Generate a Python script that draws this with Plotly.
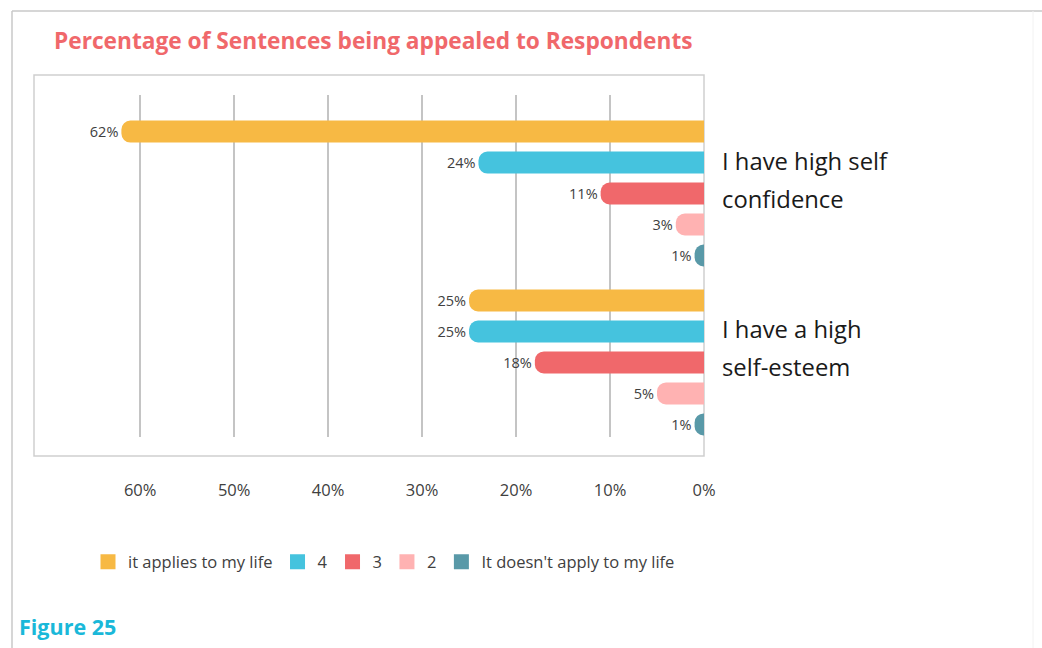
import plotly.graph_objects as go

# Survey statements (one bar group each)
statements = ["I have high self confidence", "I have a high self-esteem"]
statement_lines = [["I have high self", "confidence"], ["I have a high", "self-esteem"]]

# Answer scale, from "applies" to "doesn't apply"
answers = ["it applies to my life", "4", "3", "2", "It doesn't apply to my life"]
colors = ["#f7b944", "#45c3de", "#f0686b", "#ffb2b2", "#5999a8"]

# Percentage of respondents per answer, per statement
pct_applies = [62, 25]
pct_4 = [24, 25]
pct_3 = [11, 18]
pct_2 = [3, 5]
pct_not = [1, 1]
series = [pct_applies, pct_4, pct_3, pct_2, pct_not]

tick_values = [0, 10, 20, 30, 40, 50, 60]
tick_labels = ["0%", "10%", "20%", "30%", "40%", "50%", "60%"]

FONT = "Century Gothic, Open Sans, sans-serif"
GREY_TEXT = "#404040"

fig = go.Figure()
for name, vals, col in zip(answers, series, colors):
    fig.add_trace(go.Bar(
        y=statements,
        x=vals,
        name=name,
        orientation="h",
        marker=dict(color=col, line=dict(width=0)),
        text=[f"{v}%" for v in vals],
        textposition="outside",
        textfont=dict(family=FONT, size=14.5, color=GREY_TEXT),
        cliponaxis=False,
        hoverinfo="skip",
        showlegend=False,
    ))

# Square legend keys for the answer scale
for name, col in zip(answers, colors):
    fig.add_trace(go.Scatter(
        x=[None], y=[None], mode="markers", name=name,
        marker=dict(symbol="square", size=15, color=col),
        showlegend=True, hoverinfo="skip",
    ))

# Two-line statement labels to the right of the bars
line_shift = [-33, 5]
for stmt, lines in zip(statements, statement_lines):
    for ln, dy in zip(lines, line_shift):
        fig.add_annotation(
            x=1, xref="paper", xanchor="left", xshift=16,
            y=stmt, yref="y", yshift=-dy, yanchor="middle",
            text=ln, showarrow=False,
            font=dict(family=FONT, size=23.8, color="#1a1a1a"),
        )

# Chart title and figure caption
fig.add_annotation(
    x=(52 - 34) / 670, xref="paper", xanchor="left",
    y=1 + (95 - 40) / 342, yref="paper", yanchor="middle",
    text="<b>Percentage of Sentences being appealed to Respondents</b>",
    showarrow=False, font=dict(family=FONT, size=22.7, color="#f0686b"),
)
fig.add_annotation(
    x=(17 - 34) / 670, xref="paper", xanchor="left",
    y=(437 - 626) / 342, yref="paper", yanchor="middle",
    text="<b>Figure 25</b>",
    showarrow=False, font=dict(family=FONT, size=21.5, color="#1ab8d9"),
)

# Chart frame around the plotting area
fig.add_shape(
    type="rect", xref="paper", yref="paper",
    x0=0, x1=1, y0=-(456 - 437) / 342, y1=1 + (95 - 75) / 342,
    line=dict(color="#cfcfcf", width=1.5), fillcolor="rgba(0,0,0,0)", layer="below",
)
# Page border lines
fig.add_shape(type="line", xref="paper", yref="paper",
              x0=(12 - 34) / 670, x1=(1042 - 34) / 670,
              y0=1 + (95 - 11) / 342, y1=1 + (95 - 11) / 342,
              line=dict(color="#c8c8c8", width=1.5))
fig.add_shape(type="line", xref="paper", yref="paper",
              x0=(12 - 34) / 670, x1=(12 - 34) / 670,
              y0=1 + (95 - 11) / 342, y1=(437 - 660) / 342,
              line=dict(color="#c8c8c8", width=1.5))
fig.add_shape(type="line", xref="paper", yref="paper",
              x0=(1033 - 34) / 670, x1=(1033 - 34) / 670,
              y0=1 + (95 - 11) / 342, y1=(437 - 660) / 342,
              line=dict(color="#f2f2f2", width=1))

fig.update_layout(
    width=1042, height=648,
    margin=dict(l=34, r=338, t=95, b=211),
    paper_bgcolor="white", plot_bgcolor="white",
    barmode="group", bargap=0.083, bargroupgap=0.29,
    barcornerradius=9,
    showlegend=True,
    legend=dict(
        orientation="h", x=(88 - 34) / 670, xanchor="left",
        y=(437 - 562) / 342, yanchor="middle",
        font=dict(family=FONT, size=16.5, color=GREY_TEXT),
        itemclick=False, itemdoubleclick=False,
        traceorder="normal", itemwidth=30,
    ),
    font=dict(family=FONT, color=GREY_TEXT),
)

fig.update_xaxes(
    range=[71.3, 0],
    tickvals=tick_values, ticktext=tick_labels,
    showgrid=True, gridcolor="#c4c4c4", gridwidth=1.5,
    zeroline=False, showline=False,
    ticks="outside", ticklen=38, tickcolor="rgba(0,0,0,0)",
    tickfont=dict(family=FONT, size=16.5, color=GREY_TEXT),
    fixedrange=True,
)
fig.update_yaxes(
    type="category", categoryorder="array", categoryarray=statements,
    range=[1.441, -0.583],
    showticklabels=False, showgrid=False, zeroline=False, showline=False,
    fixedrange=True,
)

fig.write_html("out.html")
